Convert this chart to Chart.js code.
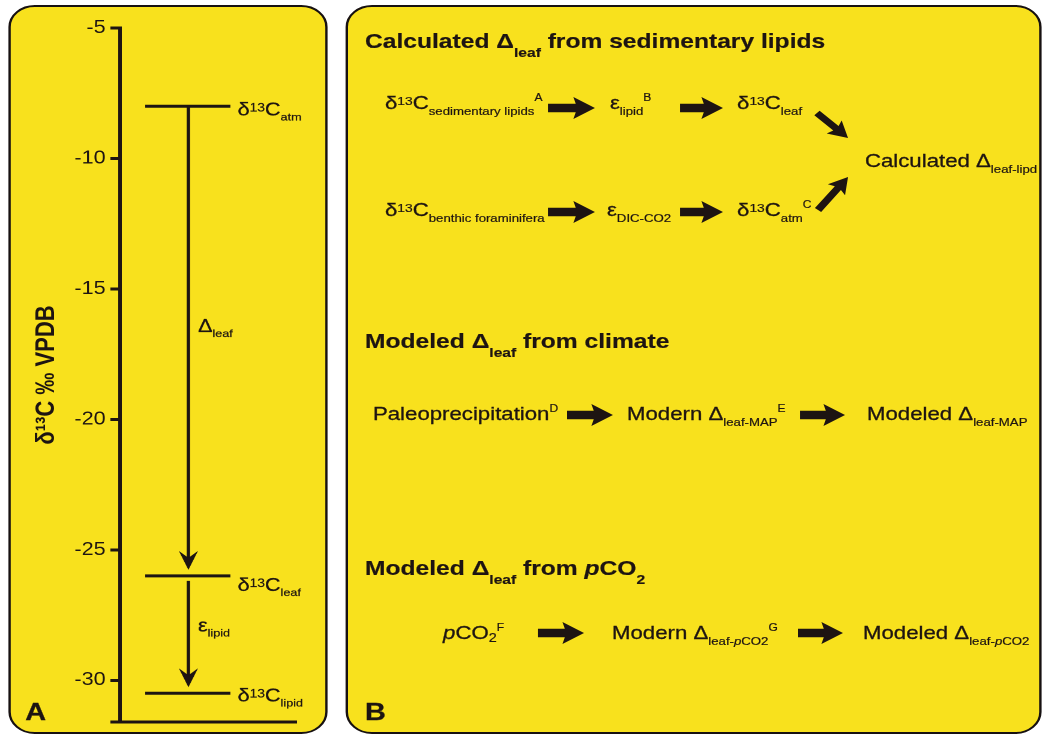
<!DOCTYPE html>
<html>
<head>
<meta charset="utf-8">
<script src="https://cdn.jsdelivr.net/npm/chart.js@4"></script>
<style>
  html, body { margin: 0; padding: 0; background: #fff; width: 1046px; height: 737px; overflow: hidden; }
  /* the whole figure is laid out on a narrower stage and widened by 1.2 */
  #stage { position: absolute; left: 0; top: 0; width: 872px; height: 737px;
           transform: scaleX(1.2); transform-origin: 0 0;
           font-family: "Liberation Sans", Arial, Helvetica, sans-serif; color: #1d1412; }
  .panel { position: absolute; background: #f8e11d; border: 2.5px solid #171111;
           border-radius: 22px; box-sizing: border-box; }
  #panelA { left: 6.7px; top: 5px; width: 266px; height: 729px; }
  #panelB { left: 288.3px; top: 5px; width: 580px; height: 729px; }
  #chartA { position: absolute; left: 0; top: 0; }
  #arrows { position: absolute; left: 0; top: 0; }
  .t { position: absolute; white-space: nowrap; font-size: 18.5px; line-height: 1;
       -webkit-text-stroke: 0.3px #1d1412; }
  .t sub, .t sup { line-height: 0; position: relative; vertical-align: baseline; font-size: 11px;
                   -webkit-text-stroke: 0.2px #1d1412; }
  .t sub { top: 6px; }
  .t sup { top: -8px; font-size: 10px; }
  .t sup.iso { top: -4px; font-size: 11.5px; }
  .t sub.lo { top: 3px; font-size: 12px; }
  .h { font-weight: bold; font-size: 20.5px; -webkit-text-stroke: 0.2px #1d1412; }
  .h sub { font-size: 13px; top: 9px; }
  .tag { font-weight: bold; font-size: 24px; }
</style>
</head>
<body>
<div id="stage">
  <div class="panel" id="panelA"></div>
  <div class="panel" id="panelB"></div>
  <canvas id="chartA" width="272" height="737"></canvas>
  <svg id="arrows" width="872" height="737" viewBox="0 0 872 737"></svg>

  <div class="t tag" style="left:21px;top:699.7px">A</div>

  <div class="t h" style="left:304.2px;top:30.7px">Calculated Δ<sub>leaf</sub> from sedimentary lipids</div>
  <div class="t" style="left:320.8px;top:94.3px">δ<sup class="iso">13</sup>C<sub>sedimentary lipids</sub><sup>A</sup></div>
  <div class="t" style="left:508.3px;top:94.3px">ε<sub>lipid</sub><sup>B</sup></div>
  <div class="t" style="left:614.2px;top:94.3px">δ<sup class="iso">13</sup>C<sub>leaf</sub></div>
  <div class="t" style="left:720.8px;top:152.3px">Calculated Δ<sub>leaf-lipd</sub></div>
  <div class="t" style="left:320.8px;top:201.3px">δ<sup class="iso">13</sup>C<sub>benthic foraminifera</sub></div>
  <div class="t" style="left:505.8px;top:201.3px">ε<sub>DIC-CO2</sub></div>
  <div class="t" style="left:614.2px;top:201.3px">δ<sup class="iso">13</sup>C<sub>atm</sub><sup>C</sup></div>

  <div class="t h" style="left:304.2px;top:330.7px">Modeled Δ<sub>leaf</sub> from climate</div>
  <div class="t" style="left:310.8px;top:405.3px">Paleoprecipitation<sup>D</sup></div>
  <div class="t" style="left:522.5px;top:405.3px">Modern Δ<sub>leaf-MAP</sub><sup>E</sup></div>
  <div class="t" style="left:722.5px;top:405.3px">Modeled Δ<sub>leaf-MAP</sub></div>

  <div class="t h" style="left:304.2px;top:557.7px">Modeled Δ<sub>leaf</sub> from <i>p</i>CO<sub>2</sub></div>
  <div class="t" style="left:369.2px;top:624.3px"><i>p</i>CO<sub class="lo">2</sub><sup>F</sup></div>
  <div class="t" style="left:510px;top:624.3px">Modern Δ<sub>leaf-<i>p</i>CO2</sub><sup>G</sup></div>
  <div class="t" style="left:719.2px;top:624.3px">Modeled Δ<sub>leaf-<i>p</i>CO2</sub></div>

  <div class="t tag" style="left:304.2px;top:699.7px">B</div>
</div>

<script>
// ---- panel A values (‰ VPDB) ----
const Y_TICKS = [-5, -10, -15, -20, -25, -30];
const AXIS_RANGE = [-31.6, -5];
const LEVELS = [-8, -26, -30.5];               // atmosphere, leaf, lipid
const LEVEL_SUBS = ['atm', 'leaf', 'lipid'];
const STEP_SYMBOLS = ['Δ', 'ε'];                // fractionation between successive levels
const STEP_SUBS = ['leaf', 'lipid'];

// ---- drawing style ----
const INK = '#1d1412';
const FONT = '"Liberation Sans", Arial, Helvetica, sans-serif';
const LINE_SPAN = [21, 92];        // x extent of each level bar, px right of the axis
const ARROW_X = 57;
const LABEL_X = 98;
const LEVEL_LABEL_DY = [9, 15, 8];
const STEP_LABEL_X = 65;
const STEP_LABEL_DY = [-9, -3];
const RUN_STYLE = {
  main: { size: 18, dy: 0, stroke: 0.3 },
  sup:  { size: 11.5, dy: -4, stroke: 0.2 },
  sub:  { size: 10.5, dy: 5, stroke: 0.2 }
};

function drawRich(ctx, x, base, runs) {
  ctx.textBaseline = 'alphabetic';
  ctx.textAlign = 'left';
  for (const [text, kind] of runs) {
    const s = RUN_STYLE[kind];
    ctx.font = `${s.size}px ${FONT}`;
    ctx.lineWidth = s.stroke;
    ctx.fillText(text, x, base + s.dy);
    ctx.strokeText(text, x, base + s.dy);
    x += ctx.measureText(text).width;
  }
}

const isotopeSteps = {
  id: 'isotopeSteps',
  afterDatasetsDraw(chart) {
    const { ctx, chartArea, scales: { x, y } } = chart;
    ctx.save();
    ctx.strokeStyle = INK;
    ctx.fillStyle = INK;

    // base line closing the axis
    ctx.lineWidth = 3;
    ctx.beginPath();
    ctx.moveTo(chartArea.left - 8, chartArea.bottom);
    ctx.lineTo(chartArea.right, chartArea.bottom);
    ctx.stroke();

    const ax = x.getPixelForValue(ARROW_X);
    for (let i = 0; i < LEVELS.length - 1; i++) {
      const yTop = y.getPixelForValue(LEVELS[i]);
      const yBot = y.getPixelForValue(LEVELS[i + 1]);
      const y0 = yTop + (i ? 5 : 0);
      const tip = yBot - 6;
      ctx.lineWidth = 2.8;
      ctx.beginPath();
      ctx.moveTo(ax, y0);
      ctx.lineTo(ax, tip - 10);
      ctx.stroke();
      ctx.beginPath();
      ctx.moveTo(ax, tip);
      ctx.lineTo(ax - 8, tip - 19);
      ctx.lineTo(ax, tip - 12);
      ctx.lineTo(ax + 8, tip - 19);
      ctx.closePath();
      ctx.fill();
      drawRich(ctx, x.getPixelForValue(STEP_LABEL_X), (yTop + yBot) / 2 + STEP_LABEL_DY[i],
               [[STEP_SYMBOLS[i], 'main'], [STEP_SUBS[i], 'sub']]);
    }

    LEVELS.forEach((v, i) => {
      drawRich(ctx, x.getPixelForValue(LABEL_X), y.getPixelForValue(v) + LEVEL_LABEL_DY[i],
               [['δ', 'main'], ['13', 'sup'], ['C', 'main'], [LEVEL_SUBS[i], 'sub']]);
    });
    ctx.restore();
  }
};

new Chart(document.getElementById('chartA'), {
  type: 'line',
  data: {
    datasets: LEVELS.map(v => ({
      data: [{ x: LINE_SPAN[0], y: v }, { x: LINE_SPAN[1], y: v }],
      borderColor: INK,
      borderWidth: 3,
      borderCapStyle: 'butt',
      pointRadius: 0,
      clip: false
    }))
  },
  options: {
    responsive: false,
    animation: false,
    devicePixelRatio: 2,
    events: [],
    layout: { padding: { left: 0, top: 28, right: 24.5, bottom: 15 } },
    plugins: { legend: { display: false }, tooltip: { enabled: false } },
    scales: {
      x: { type: 'linear', min: 0, max: 147.5, display: false },
      y: {
        type: 'linear',
        min: AXIS_RANGE[0],
        max: AXIS_RANGE[1],
        afterBuildTicks: s => { s.ticks = Y_TICKS.map(v => ({ value: v })); },
        afterFit: s => { s.width = 100; },
        grid: { drawOnChartArea: false, drawTicks: true, tickLength: 8, tickWidth: 3, tickColor: INK },
        border: { display: true, width: 3, color: INK },
        ticks: { color: INK, padding: 4, font: { size: 18, family: FONT }, callback: v => String(v) },
        title: {
          display: true,
          text: 'δ¹³C ‰ VPDB',
          color: INK,
          font: { size: 22, weight: 'bold', family: FONT },
          padding: { top: 25.5, bottom: 0 }
        }
      }
    }
  },
  plugins: [isotopeSteps]
});

// ---- panel B flow arrows ----
const FLOW_ARROWS = [
  [456.7, 108, 495.8, 108], [566.7, 108, 602.5, 108],
  [456.7, 212, 495.8, 212], [566.7, 212, 602.5, 212],
  [472.5, 415, 510.8, 415], [666.7, 415, 704.2, 415],
  [448.3, 633, 486.7, 633], [665, 633, 702.5, 633]
];
const MERGE_ARROWS = [
  [680.8, 113, 706.7, 138], [681.7, 210, 706.7, 177]
];

function arrowPoints([x0, y0, x1, y1], h, H, L) {
  const dx = x1 - x0, dy = y1 - y0, len = Math.hypot(dx, dy);
  const ux = dx / len, uy = dy / len, nx = -uy, ny = ux;
  const P = (a, b) => [x0 + ux * a + nx * b, y0 + uy * a + ny * b];
  return [P(0, -h), P(len - L, -h), P(len - L - 2, -H), P(len, 0),
          P(len - L - 2, H), P(len - L, h), P(0, h)]
    .map(p => p.map(n => n.toFixed(1)).join(',')).join(' ');
}

const svg = document.getElementById('arrows');
const NS = 'http://www.w3.org/2000/svg';
FLOW_ARROWS.forEach(a => {
  const p = document.createElementNS(NS, 'polygon');
  p.setAttribute('points', arrowPoints(a, 4.2, 11, 16));
  p.setAttribute('fill', INK);
  svg.appendChild(p);
});
MERGE_ARROWS.forEach(a => {
  const p = document.createElementNS(NS, 'polygon');
  p.setAttribute('points', arrowPoints(a, 3.2, 9, 14));
  p.setAttribute('fill', INK);
  svg.appendChild(p);
});
</script>
</body>
</html>
